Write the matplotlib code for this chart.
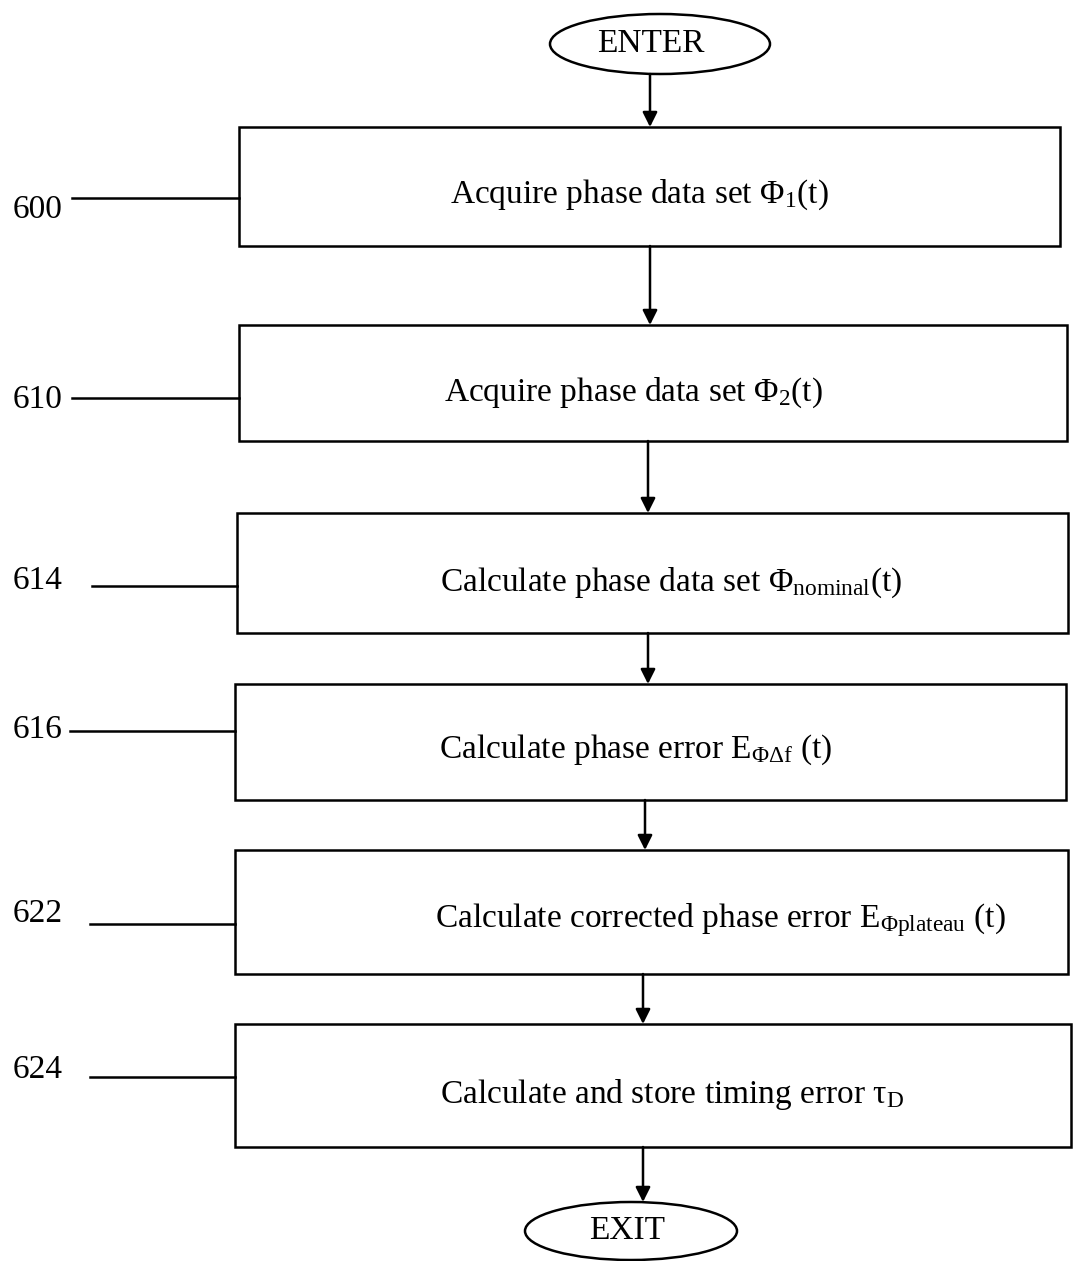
import matplotlib.pyplot as plt
from matplotlib.patches import Rectangle, Ellipse

plt.rcParams["font.family"] = ["Liberation Serif", "DejaVu Serif"]
plt.rcParams["mathtext.fontset"] = "custom"
plt.rcParams["mathtext.rm"] = "Liberation Serif"
plt.rcParams["mathtext.it"] = "Liberation Serif:italic"

# ---------- Content ----------
step_ids = ["600", "610", "614", "616", "622", "624"]
step_texts = [
    r"Acquire phase data set Φ$_{\mathrm{1}}$(t)",
    r"Acquire phase data set Φ$_{\mathrm{2}}$(t)",
    r"Calculate phase data set Φ$_{\mathrm{nominal}}$(t)",
    r"Calculate phase error E$_{\mathrm{\Phi\Delta f}}$ (t)",
    r"Calculate corrected phase error E$_{\mathrm{\Phi plateau}}$ (t)",
    r"Calculate and store timing error τ$_{\mathrm{D}}$",
]
start_text = "ENTER"
end_text = "EXIT"

# ---------- Layout (pixel coords) ----------
box_left = [239, 239, 237, 235, 235, 235]
box_right = [1060, 1067, 1068, 1066, 1068, 1071]
box_top = [127, 325, 513, 684, 850, 1024]
box_bot = [246, 441, 633, 800, 974, 1147]
text_y = [195, 393, 583, 750, 920, 1095]
text_x = [639, 633, 671, 636, 720, 672]
arrow_x = [650, 650, 648, 648, 645, 643, 643]
label_y = [210, 400, 581, 730, 914, 1070]
lead_x0 = [72, 72, 92, 70, 90, 90]
lead_y = [198, 398, 586, 731, 924, 1077]

W, H = 1073, 1261
fig = plt.figure(figsize=(W / 100, H / 100), dpi=100)
ax = fig.add_axes([0, 0, 1, 1])
ax.set_xlim(0, W)
ax.set_ylim(H, 0)
ax.axis("off")

FS = 24
LW = 1.8

# ---------- Terminals ----------
ax.add_patch(Ellipse((660, 44), 220, 60, fill=False, lw=LW))
ax.text(651, 44, start_text, ha="center", va="center", fontsize=FS)
ax.add_patch(Ellipse((631, 1231), 212, 58, fill=False, lw=LW))
ax.text(627, 1231, end_text, ha="center", va="center", fontsize=FS)

# ---------- Boxes ----------
for i in range(len(step_ids)):
    x0, x1, y0, y1 = box_left[i], box_right[i], box_top[i], box_bot[i]
    ax.add_patch(Rectangle((x0, y0), x1 - x0, y1 - y0, fill=False, lw=LW))
    ax.text(text_x[i], text_y[i], step_texts[i], ha="center", va="center", fontsize=FS)
    ax.text(13, label_y[i], step_ids[i], ha="left", va="center", fontsize=FS)
    ax.plot([lead_x0[i], x0], [lead_y[i], lead_y[i]], color="black", lw=LW)

# ---------- Arrows ----------
arrow_y0 = [74] + box_bot
arrow_y1 = box_top + [1202]
for x, y0, y1 in zip(arrow_x, arrow_y0, arrow_y1):
    ax.annotate("", xy=(x, y1), xytext=(x, y0),
                arrowprops=dict(arrowstyle="-|>", color="black", lw=LW,
                                mutation_scale=22, shrinkA=0, shrinkB=0))

fig.savefig("out.png", dpi=100)
